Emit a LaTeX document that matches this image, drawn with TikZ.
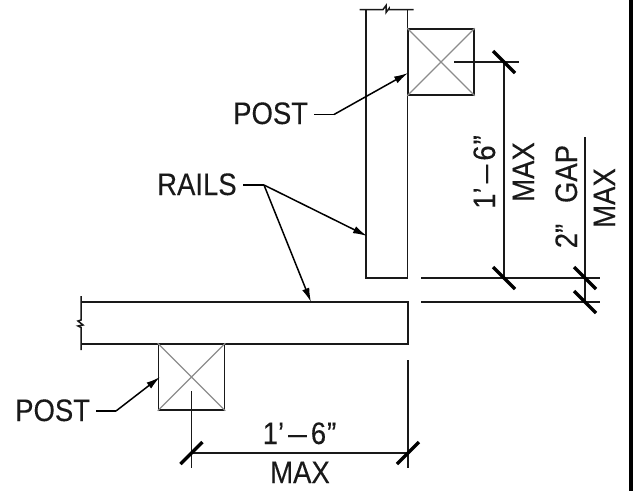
\documentclass[tikz,border=0pt]{standalone}
\usepackage{graphicx}
\usepackage{fontspec}
\setmainfont{Liberation Sans}[FakeBold=0.15]
\usetikzlibrary{arrows.meta,calc}
\newcommand{\tallt}[1]{\scalebox{1}[1.13]{#1}}
\newcommand{\feetsix}{\tallt{1’\kern4pt\scalebox{.68}[1]{—}\kern4pt6\kern1pt”}}
\tikzset{
  x=1pt,y=-1pt,
  rail/.style={line width=1.7pt,black!90},
  dimln/.style={line width=1.5pt,black!90},
  tick/.style={line width=3.4pt,black},
  cross/.style={line width=1.1pt,black!45},
  leader/.style={line width=1.5pt,black,-{Latex[length=14pt,width=7.5pt]}},
  lead/.style={line width=1.5pt,black},
  lbl/.style={inner sep=0pt,font=\fontsize{27.5}{30}\selectfont,text=black!90},
  vlbl/.style={lbl,rotate=90},
}
\begin{document}
\begin{tikzpicture}
\useasboundingbox (0,0) rectangle (633,491);
\fill[black] (629,0) rectangle (633,491);
% vertical rail
\coordinate (vt1) at (366,278); \coordinate (vt2) at (366,9.5);
\coordinate (vb) at (407.5,278);
\draw[rail] (vt2) -- (vt1) -- (vb) -- (407.5,9.5);
\draw[dimln] (359.5,9.5) -- (383,9.5) -- (386,5.5) -- (386,12.5) -- (389,8.5) -- (389,9.5) -- (413.5,9.5);
% horizontal rail
\coordinate (ha) at (81,302); \coordinate (hb) at (408,302);
\draw[rail] (ha) -- (hb) -- (408,344) -- (81,344);
\draw[dimln] (81,296) -- (81,320) -- (78,321) -- (83,325) -- (78,326) -- (81,327.5) -- (81,350);
% posts
\node[draw=black!90,line width=1.7pt,minimum size=66pt,inner sep=0pt] (p1) at (441,62) {};
\node[draw=black!90,line width=1.7pt,minimum size=66pt,inner sep=0pt] (p2) at (191.5,377) {};
\draw[cross] (p1.north west) -- (p1.south east) (p1.north east) -- (p1.south west);
\draw[cross] (p2.north west) -- (p2.south east) (p2.north east) -- (p2.south west);
% right dimensions
\coordinate (d1) at (504,62);
\coordinate (d2) at (504,278);
\coordinate (d3) at (585,278);
\coordinate (d4) at (585,302);
\draw[dimln] (454,62) -- (519,62);
\draw[dimln] (d1) -- (d2);
\draw[dimln] (421,278) -- (600,278);
\draw[dimln] (421,302) -- (600,302);
\draw[dimln] (585,137) -- (d4);
\foreach \c in {d1,d2,d3,d4}
  \draw[tick] ($(\c)+(-11,-11)$) -- ($(\c)+(11,11)$);
% bottom dimensions
\coordinate (b1) at (191.5,453);
\coordinate (b2) at (408,453);
\draw[dimln] (191.5,391) -- (191.5,468);
\draw[dimln] (408,360) -- (408,468);
\draw[dimln] (b1) -- (b2);
\foreach \c in {b1,b2}
  \draw[tick] ($(\c)+(-11,11)$) -- ($(\c)+(11,-11)$);
% labels
\node[lbl,anchor=base west] (lp1) at (233,124) {\tallt{POST}};
\node[lbl,anchor=base west] (lr) at (157,195) {\tallt{RAILS}};
\node[lbl,anchor=base west] (lp2) at (15,421) {\tallt{POST}};
\coordinate (a1) at (314,114.5); \coordinate (a1b) at (334,114.5); \coordinate (a1t) at (408,73);
\draw[lead] (a1) -- (a1b);
\draw[leader] (a1b) -- (a1t);
\coordinate (r0) at (243,185); \coordinate (rj) at (264,185);
\draw[lead] (r0) -- (rj);
\coordinate (r1) at (367,236); \coordinate (r2) at (311,302);
\draw[leader] (rj) -- (r1);
\draw[leader] (rj) -- (r2);
\coordinate (a2) at (96,411); \coordinate (a2b) at (116,411);
\draw[lead] (a2) -- (a2b);
\coordinate (p2t) at (160,377);
\draw[leader] (a2b) -- (p2t);
\node[vlbl,anchor=base] (t1) at (495,172) {\feetsix};
\node[vlbl,anchor=base] (t2) at (534,172) {\tallt{MAX}};
\node[vlbl,anchor=base] (t3) at (577,174) {\tallt{GAP}};
\node[vlbl,anchor=base] (t4) at (577,236) {\tallt{2”}};
\node[vlbl,anchor=base] (t5) at (615,198) {\tallt{MAX}};
\node[lbl,anchor=base] (t6) at (299.5,444) {\feetsix};
\node[lbl,anchor=base] (t7) at (300,483) {\tallt{MAX}};
\end{tikzpicture}
\end{document}
